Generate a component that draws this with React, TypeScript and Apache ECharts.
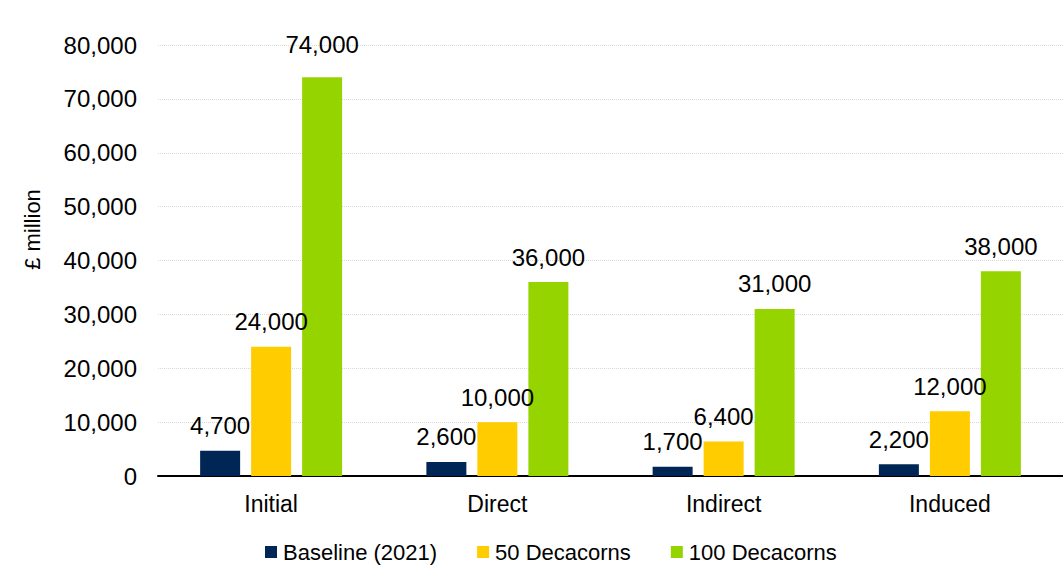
import React, { useEffect, useRef } from "react";
import * as echarts from "echarts";

const categories = ["Initial", "Direct", "Indirect", "Induced"];
const baseline = [4700, 2600, 1700, 2200];
const decacorns50 = [24000, 10000, 6400, 12000];
const decacorns100 = [74000, 36000, 31000, 38000];
const seriesNames = ["Baseline (2021)", "50 Decacorns", "100 Decacorns"];
const colors = ["#002655", "#FFCC00", "#96D400"];

const fmt = (v: number) => v.toLocaleString("en-US");

export default function App() {
  const ref = useRef<HTMLDivElement>(null);
  useEffect(() => {
    if (!ref.current) return;
    const chart = echarts.init(ref.current, undefined, { renderer: "svg" });
    const font = "Liberation Sans, Arial, sans-serif";
    const mk = (name: string, data: number[], color: string) => ({
      name,
      type: "bar",
      data: data.map((v) => (v > 60000 ? { value: v, label: { distance: 21 } } : v)),
      barWidth: 40,
      barGap: "27.5%",
      itemStyle: { color },
      label: {
        show: true,
        position: "top",
        distance: 13,
        formatter: (p: any) => fmt(p.value),
        fontSize: 24,
        fontFamily: font,
        color: "#000",
      },
    });
    chart.setOption({
      animation: false,
      textStyle: { fontFamily: font },
      grid: { left: 158, right: -7, top: 45, bottom: 94, containLabel: false },
      legend: {
        top: 536,
        left: 260,
        itemWidth: 12,
        itemHeight: 12,
        itemGap: 40,
        icon: "rect",
        textStyle: { fontSize: 22, fontFamily: font, color: "#000", padding: [0, 0, 0, 1] },
        data: seriesNames,
      },
      xAxis: {
        type: "category",
        data: categories,
        axisLine: { lineStyle: { color: "#000", width: 2 } },
        axisTick: { show: false },
        axisLabel: { fontSize: 23, color: "#000", margin: 16, fontFamily: font },
      },
      yAxis: {
        type: "value",
        min: 0,
        max: 80000,
        interval: 10000,
        name: "£ million",
        nameLocation: "middle",
        nameGap: 115,
        nameTextStyle: { fontSize: 22, color: "#000", fontFamily: font, padding: [0, 0, 0, 62] },
        axisLine: { show: false },
        axisTick: { show: false },
        axisLabel: {
          fontSize: 24,
          color: "#000",
          margin: 21,
          fontFamily: font,
          formatter: (v: number) => fmt(v),
        },
        splitLine: { lineStyle: { color: "#D9D9D9", type: "dotted", width: 1 } },
      },
      series: [
        mk(seriesNames[0], baseline, colors[0]),
        mk(seriesNames[1], decacorns50, colors[1]),
        mk(seriesNames[2], decacorns100, colors[2]),
      ],
    });
    return () => chart.dispose();
  }, []);
  return <div ref={ref} style={{ width: 1063, height: 570, position: "absolute", left: 0, top: 0 }} />;
}
